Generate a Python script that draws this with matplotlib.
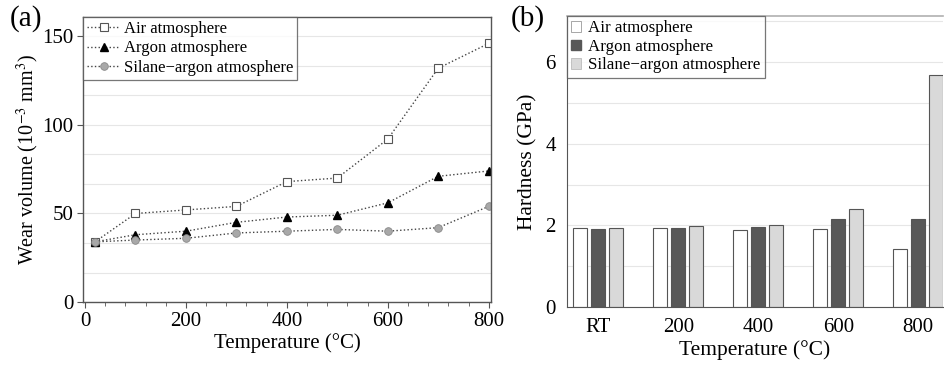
import numpy as np
import matplotlib.pyplot as plt
from matplotlib.ticker import MultipleLocator
from matplotlib.patches import Patch

plt.rcParams["font.family"] = ["Liberation Serif", "DejaVu Serif"]
plt.rcParams["mathtext.fontset"] = "stix"

# ── Data ──────────────────────────────────────────────────────────────────────
temps = [20, 100, 200, 300, 400, 500, 600, 700, 800]
wear_air = [34, 50, 52, 54, 68, 70, 92, 132, 146]
wear_argon = [34, 38, 40, 45, 48, 49, 56, 71, 74]
wear_silane = [34, 35, 36, 39, 40, 41, 40, 42, 54]

groups = ["RT", "200", "400", "600", "800"]
hard_air = [1.93, 1.93, 1.89, 1.90, 1.41]
hard_argon = [1.92, 1.94, 1.96, 2.15, 2.16]
hard_silane = [1.93, 1.98, 2.01, 2.41, 5.68]

labels = ["Air atmosphere", "Argon atmosphere", "Silane\u2212argon atmosphere"]

EDGE = "#555555"
GRID = "#e6e6e6"

fig = plt.figure(figsize=(9.45, 3.67), dpi=100)
ax1 = fig.add_axes([0.0878, 0.177, 0.432, 0.777])
ax2 = fig.add_axes([0.600, 0.1635, 0.398, 0.7925])

# ── (a) wear volume ───────────────────────────────────────────────────────────
line_kw = dict(linestyle=":", color="#444444", linewidth=1.0, markersize=5.5)
ax1.plot(temps, wear_air, marker="s", markerfacecolor="white",
         markeredgecolor="#555555", markeredgewidth=0.8, label=labels[0], **line_kw)
ax1.plot(temps, wear_argon, marker="^", markerfacecolor="black",
         markeredgecolor="black", label=labels[1], **line_kw)
ax1.plot(temps, wear_silane, marker="o", markerfacecolor="#a8a8a8",
         markeredgecolor="#888888", markeredgewidth=0.6, label=labels[2], **line_kw)

ax1.set_xlim(-4, 805)
ax1.set_ylim(0, 161)
ax1.xaxis.set_major_locator(MultipleLocator(200))
ax1.xaxis.set_minor_locator(MultipleLocator(40))
ax1.yaxis.set_major_locator(MultipleLocator(50))
ax1.yaxis.set_minor_locator(MultipleLocator(50 / 3))
ax1.grid(axis="y", which="both", color=GRID, linewidth=0.8)
ax1.set_axisbelow(True)
ax1.tick_params(axis="both", which="major", labelsize=15, length=4, color=EDGE, pad=3)
ax1.tick_params(axis="x", which="minor", length=3, color=EDGE)
ax1.tick_params(axis="y", which="minor", length=0)
for s in ax1.spines.values():
    s.set_color(EDGE)
    s.set_linewidth(1.0)
ax1.set_xlabel("Temperature (\u00b0C)", fontsize=15, labelpad=2)
ax1.set_ylabel("Wear volume (10$^{-3}$ mm$^3$)", fontsize=14.5, labelpad=1)
leg1 = ax1.legend(loc="upper left", fontsize=12, frameon=True, fancybox=False,
                  borderaxespad=0, handlelength=2.0, handletextpad=0.2,
                  labelspacing=0.2, borderpad=0.25)
leg1.get_frame().set_edgecolor(EDGE)
leg1.get_frame().set_linewidth(0.9)
fig.text(0.010, 0.985, "(a)", fontsize=21, va="top", ha="left")

# ── (b) hardness ──────────────────────────────────────────────────────────────
x = np.arange(len(groups))
w = 0.175
pitch = 0.225
bar_kw = dict(width=w, edgecolor=EDGE, linewidth=0.8)
ax2.bar(x - pitch, hard_air, color="white", **bar_kw)
ax2.bar(x, hard_argon, color="#585858", **bar_kw)
ax2.bar(x + pitch, hard_silane, color="#d9d9d9", **bar_kw)

ax2.set_xlim(-0.39, 4.31)
ax2.set_ylim(0, 7.13)
ax2.set_xticks(x)
ax2.set_xticklabels(groups)
ax2.yaxis.set_major_locator(MultipleLocator(2))
ax2.yaxis.set_minor_locator(MultipleLocator(1))
ax2.grid(axis="y", which="both", color=GRID, linewidth=0.8)
ax2.set_axisbelow(True)
ax2.tick_params(axis="both", which="both", length=0, labelsize=15, pad=8)
ax2.spines["right"].set_visible(False)
ax2.spines["top"].set_color("#b0b0b0")
ax2.spines["top"].set_linewidth(1.2)
ax2.spines["left"].set_color(EDGE)
ax2.spines["bottom"].set_color(EDGE)
ax2.set_xlabel("Temperature (\u00b0C)", fontsize=15.5, labelpad=2)
ax2.set_ylabel("Hardness (GPa)", fontsize=15.5, labelpad=6)

handles = [Patch(facecolor="white", edgecolor="#999999", linewidth=0.6),
           Patch(facecolor="#585858", edgecolor="#585858"),
           Patch(facecolor="#d9d9d9", edgecolor="#bbbbbb", linewidth=0.6)]
leg2 = ax2.legend(handles, labels, loc="upper left", fontsize=12.2, frameon=True,
                  fancybox=False, borderaxespad=0, handlelength=0.6,
                  handleheight=0.6, handletextpad=0.4, labelspacing=0.15,
                  borderpad=0.25)
leg2.get_frame().set_edgecolor(EDGE)
leg2.get_frame().set_linewidth(0.9)
fig.text(0.540, 0.985, "(b)", fontsize=21, va="top", ha="left")

fig.savefig("out.png", dpi=100)
